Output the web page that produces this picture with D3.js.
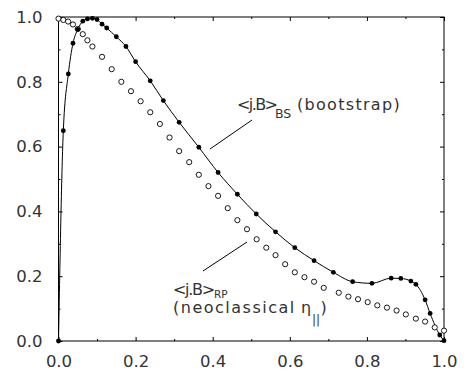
<!DOCTYPE html>
<html><head><meta charset="utf-8">
<script src="https://cdn.jsdelivr.net/npm/d3@7"></script>
<style>body{margin:0;background:#fff}svg{display:block}</style>
</head><body>
<svg id="c" width="476" height="372"></svg>
<script>
// bootstrap current <j.B>_BS (filled dots, joined)
const bsX = [0,0.0125,0.0255,0.0376,0.05,0.063,0.075,0.088,0.1,0.113,0.125,0.15,0.175,0.2,0.238,0.272,0.313,0.364,0.414,0.464,0.513,0.563,0.613,0.663,0.713,0.763,0.813,0.863,0.888,0.914,0.927,0.951,0.964,0.989,1.0];
const bsY = [0,0.649,0.824,0.919,0.962,0.987,0.994,0.996,0.992,0.978,0.966,0.939,0.909,0.862,0.803,0.742,0.675,0.598,0.520,0.453,0.392,0.337,0.288,0.248,0.212,0.183,0.178,0.194,0.193,0.185,0.175,0.127,0.085,0.0185,0.001];
// neoclassical <j.B>_RP (open circles)
const rpX = [0,0.0125,0.025,0.0375,0.05,0.063,0.075,0.088,0.113,0.138,0.163,0.188,0.213,0.238,0.263,0.288,0.313,0.339,0.364,0.389,0.414,0.439,0.464,0.489,0.514,0.539,0.563,0.588,0.613,0.638,0.663,0.688,0.727,0.752,0.777,0.802,0.827,0.852,0.877,0.901,0.927,0.951,0.976,1.0];
const rpY = [0.995,0.991,0.986,0.977,0.963,0.947,0.928,0.909,0.877,0.839,0.800,0.771,0.740,0.706,0.670,0.628,0.586,0.552,0.513,0.478,0.448,0.410,0.373,0.345,0.314,0.288,0.265,0.237,0.212,0.197,0.183,0.164,0.149,0.137,0.129,0.120,0.110,0.103,0.094,0.082,0.069,0.060,0.042,0.032];
const xTicks = [0,0.2,0.4,0.6,0.8,1.0];
const yTicks = [0,0.2,0.4,0.6,0.8,1.0];
const minorTicks = [0.1,0.3,0.5,0.7,0.9];

const svg = d3.select("#c");
const L=58.5,R=444,T=17,B=341;
const x = d3.scaleLinear().domain([0,1]).range([L,R]);
const y = d3.scaleLinear().domain([0,1]).range([B,T]);
const font = "DejaVu Sans, sans-serif";
const tc = "#333";

function styleAxis(g){g.select(".domain").remove();g.selectAll("line").attr("stroke","#000");g.selectAll("text").attr("font-family",font).attr("font-size",16.5).attr("fill",tc);}
// frame
svg.append("rect").attr("x",L).attr("y",T).attr("width",R-L).attr("height",B-T).attr("fill","none").attr("stroke","#000").attr("stroke-width",1);
// bottom
svg.append("g").attr("transform",`translate(0,${B})`).call(d3.axisBottom(x).tickValues(xTicks).tickFormat(d3.format(".1f")).tickSize(-4).tickPadding(14)).call(styleAxis);
svg.append("g").attr("transform",`translate(0,${B})`).call(d3.axisBottom(x).tickValues(minorTicks).tickFormat("").tickSize(-2)).call(styleAxis);
// top
svg.append("g").attr("transform",`translate(0,${T})`).call(d3.axisTop(x).tickValues(xTicks).tickFormat("").tickSize(-4)).call(styleAxis);
svg.append("g").attr("transform",`translate(0,${T})`).call(d3.axisTop(x).tickValues(minorTicks).tickFormat("").tickSize(-2)).call(styleAxis);
// left
svg.append("g").attr("transform",`translate(${L},0)`).call(d3.axisLeft(y).tickValues(yTicks).tickFormat(d3.format(".1f")).tickSize(-4).tickPadding(16)).call(styleAxis);
svg.append("g").attr("transform",`translate(${L},0)`).call(d3.axisLeft(y).tickValues(minorTicks).tickFormat("").tickSize(-2)).call(styleAxis);
// right
svg.append("g").attr("transform",`translate(${R},0)`).call(d3.axisRight(y).tickValues(yTicks).tickFormat("").tickSize(-4)).call(styleAxis);
svg.append("g").attr("transform",`translate(${R},0)`).call(d3.axisRight(y).tickValues(minorTicks).tickFormat("").tickSize(-2)).call(styleAxis);

// bootstrap line
const bs = bsX.map((v,i)=>[v,bsY[i]]);
const rp = rpX.map((v,i)=>[v,rpY[i]]);
svg.append("path").datum(bs).attr("fill","none").attr("stroke","#000").attr("stroke-width",1)
  .attr("d",d3.line().x(d=>x(d[0])).y(d=>y(d[1])).curve(d3.curveMonotoneX));
svg.append("g").selectAll("circle").data(rp).join("circle")
  .attr("cx",d=>x(d[0])).attr("cy",d=>y(d[1])).attr("r",2.6).attr("fill","#fff").attr("stroke","#000").attr("stroke-width",0.9);
svg.append("g").selectAll("circle").data(bs).join("circle")
  .attr("cx",d=>x(d[0])).attr("cy",d=>y(d[1])).attr("r",2.4).attr("fill","#000");

// labels
const t1 = svg.append("text").attr("font-family",font).attr("font-size",16).attr("fill",tc);
t1.append("tspan").attr("x",237).attr("y",110).attr("letter-spacing",-1.6).text("<j.B>");
t1.append("tspan").attr("x",275).attr("y",118).attr("font-size",12.5).text("BS");
t1.append("tspan").attr("x",297).attr("y",110).attr("letter-spacing",1.3).text("(bootstrap)");
svg.append("line").attr("x1",252).attr("y1",120).attr("x2",210).attr("y2",149).attr("stroke","#000");

const t2 = svg.append("text").attr("font-family",font).attr("font-size",16).attr("fill",tc);
t2.append("tspan").attr("x",173).attr("y",295).attr("letter-spacing",-1.3).text("<j.B>");
t2.append("tspan").attr("x",214).attr("y",297.5).attr("font-size",10.5).text("RP");
t2.append("tspan").attr("x",173).attr("y",313).attr("letter-spacing",1.5).text("(neoclassical");
t2.append("tspan").attr("x",301).attr("y",313).text("η");
t2.append("tspan").attr("x",312).attr("y",324).attr("font-size",12).text("||");
t2.append("tspan").attr("x",320.5).attr("y",313).text(")");
svg.append("line").attr("x1",203).attr("y1",271).attr("x2",247).attr("y2",242).attr("stroke","#000");
</script>
</body></html>
